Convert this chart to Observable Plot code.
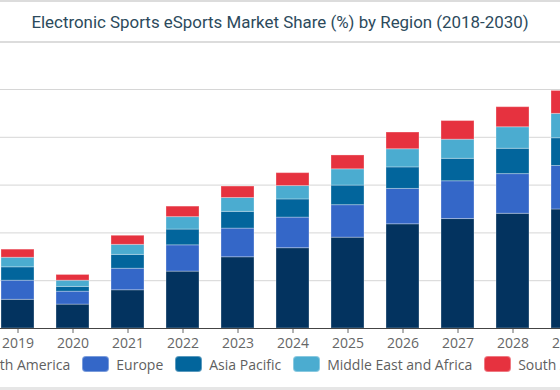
<!DOCTYPE html>
<html>
<head>
<meta charset="utf-8">
<script src="https://cdn.jsdelivr.net/npm/d3@7"></script>
<script src="https://cdn.jsdelivr.net/npm/@observablehq/plot@0.6"></script>
<style>
  html, body { margin: 0; padding: 0; background: #fff; }
  body { width: 560px; height: 390px; overflow: hidden; position: relative; }
  #title {
    position: absolute; left: 0; top: 0; width: 560px; height: 39px;
    border-top: 2px solid #dcdcdc; border-bottom: 2px solid #dcdcdc;
    font-family: Roboto, sans-serif; font-size: 16.9px; color: #2c4a5c;
    display: flex; align-items: center; justify-content: center; white-space: nowrap;
  }
  #chart { position: absolute; top: 43px; left: -76px; width: 737px; }
  #chart svg { max-width: none !important; }
  #legend {
    position: absolute; top: 356px; left: -59px; display: flex; gap: 12px;
    font-family: "Open Sans", sans-serif; font-size: 14px; color: #5f5f5f; white-space: nowrap;
  }
  .item { display: flex; align-items: center; gap: 7px; height: 16px; }
  .sw { width: 27px; height: 16px; border-radius: 4px; box-sizing: border-box; border: 1px solid rgba(255,255,255,0.35); }
  #foot { position: absolute; left: 0; top: 387px; width: 560px; height: 3px; background: #e6e6e6; }
</style>
</head>
<body>
<div id="title">Electronic Sports eSports Market Share (%) by Region (2018-2030)</div>
<div id="chart"></div>
<div id="legend"></div>
<div id="foot"></div>
<script>
const years = ["2018","2019","2020","2021","2022","2023","2024","2025","2026","2027","2028","2029","2030"];
const regions = ["North America","Europe","Asia Pacific","Middle East and Africa","South America"];
const colors = ["#03335f","#3467c8","#02659c","#4bacd0","#e6323f"];
const northAmerica = [0.55,0.60,0.50,0.80,1.19,1.49,1.68,1.90,2.18,2.29,2.40,2.49,2.58];
const europe       = [0.36,0.40,0.27,0.45,0.55,0.60,0.64,0.68,0.74,0.79,0.83,0.91,0.98];
const asiaPacific  = [0.25,0.28,0.10,0.29,0.33,0.35,0.38,0.41,0.45,0.47,0.53,0.58,0.63];
const middleEast   = [0.18,0.20,0.13,0.21,0.26,0.29,0.28,0.34,0.38,0.40,0.45,0.51,0.55];
const southAmerica = [0.15,0.17,0.12,0.19,0.22,0.24,0.27,0.29,0.35,0.39,0.42,0.48,0.52];
const yTicks = [0,1,2,3,4,5];

const series = [northAmerica, europe, asiaPacific, middleEast, southAmerica];
const table = [];
years.forEach((yr, i) => regions.forEach((r, k) => table.push({year: yr, region: r, value: series[k][i]})));

const chart = Plot.plot({
  width: 737,
  height: 315,
  marginLeft: 0,
  marginRight: 0,
  marginTop: 46,
  marginBottom: 30,
  style: {fontFamily: "'Open Sans', sans-serif", fontSize: "14px", color: "#666", background: "transparent", maxWidth: "none"},
  x: {domain: years, padding: 0.4, label: null, tickSize: 5, tickPadding: 5},
  y: {domain: [0, 5], axis: null},
  color: {domain: regions, range: colors},
  marks: [
    Plot.gridY(yTicks, {stroke: "#d6d6d6", strokeOpacity: 1}),
    Plot.barY(table, {x: "year", y: "value", fill: "region", order: regions, stroke: "#fff", strokeOpacity: 0.3, strokeWidth: 1}),
    Plot.ruleY([0], {stroke: "#444", strokeWidth: 1})
  ]
});
document.getElementById("chart").appendChild(chart);

const legend = document.getElementById("legend");
regions.forEach((r, k) => {
  const it = document.createElement("div"); it.className = "item";
  const sw = document.createElement("div"); sw.className = "sw"; sw.style.background = colors[k];
  const tx = document.createElement("span"); tx.textContent = r;
  it.appendChild(sw); it.appendChild(tx); legend.appendChild(it);
});
</script>
</body>
</html>
